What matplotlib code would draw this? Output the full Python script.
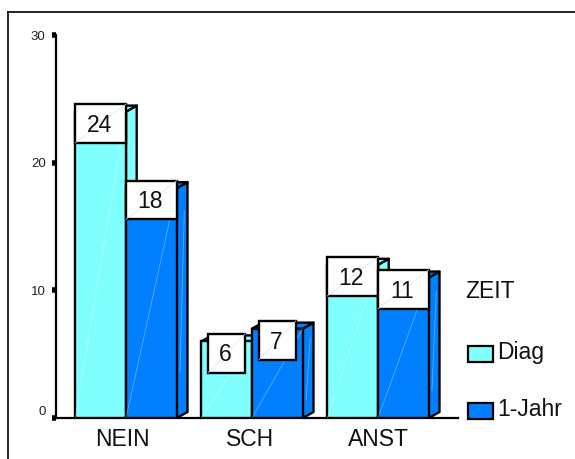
import matplotlib
matplotlib.use("Agg")
import matplotlib.pyplot as plt
from matplotlib.lines import Line2D
from matplotlib.patches import Polygon, Rectangle

plt.rcParams['font.family'] = ['Liberation Sans', 'DejaVu Sans']

# Data
categories = ["NEIN", "SCH", "ANST"]
series_names = ["Diag", "1-Jahr"]
diag = [24, 6, 12]
jahr = [18, 7, 11]
y_ticks = [0, 10, 20, 30]

colors = ["#80FFFF", "#0080FF"]
W, H = 575, 459

fig = plt.figure(figsize=(W / 100, H / 100), dpi=100)
# axes placed in pixels: y axis at x=56, baseline at y=418, 30 at y=35
ax = fig.add_axes([56 / W, (H - 418) / H, (458 - 56) / W, (418 - 35) / H])
ax.set_xlim((56 - 126) / 126, (458 - 126) / 126)
ax.set_ylim(0, 30)

bar_w = 0.403
dx = 0.085   # depth of the fake 3D, x units
dy = 0.47    # depth of the fake 3D, y units
lw = 1.7
streak = dict(color="white", lw=0.6, alpha=0.35)


def draw_bar(x0, v, color, z):
    x1 = x0 + bar_w
    ax.add_patch(Polygon([(x1, 0), (x1 + dx, dy), (x1 + dx, v + dy), (x1, v)],
                         fc=color, ec="black", lw=lw, zorder=z, joinstyle="round"))
    ax.add_patch(Polygon([(x0, v), (x0 + dx, v + dy), (x1 + dx, v + dy), (x1, v)],
                         fc=color, ec="black", lw=lw, zorder=z, joinstyle="round"))
    ax.add_patch(Rectangle((x0, 0), bar_w, v, fc=color, ec="black", lw=lw, zorder=z + 0.1))
    ax.plot([x0, x1], [0, v], zorder=z + 0.2, **streak)
    ax.plot([x1 + dx * 0.3, x1 + dx * 0.7], [0.2 * v, 0.9 * v], zorder=z + 0.2, **streak)


def draw_label(xc, v):
    # white value box that overlaps the bar top
    w = bar_w if v >= 10 else 0.293
    top = v + 0.6
    h = 3.05
    ax.add_patch(Rectangle((xc - w / 2, top - h), w, h, fc="white", ec="black", lw=lw, zorder=20))
    ax.plot([xc - w / 2, xc + w / 2], [top - h, top], color="#CFE6FF", lw=0.5, zorder=20.1)
    ax.text(xc - 0.012, top - h / 2 - 0.14, str(v), ha="center", va="center", fontsize=16.5,
            color="#111111", zorder=21)


for i in range(len(categories)):
    z = 3 + i * 3
    draw_bar(i - bar_w, diag[i], colors[0], z)
    draw_bar(i, jahr[i], colors[1], z + 1)
    draw_label(i - bar_w / 2, diag[i])
    draw_label(i + bar_w / 2, jahr[i])

# Axes
for side in ["top", "right"]:
    ax.spines[side].set_visible(False)
ax.spines["left"].set_linewidth(1.6)
ax.spines["bottom"].set_linewidth(1.6)
ax.patch.set_alpha(0)

ax.set_yticks(y_ticks)
ax.tick_params(axis="y", length=3, width=4, pad=4.5, labelsize=9.5, labelcolor="#222222")
ax.get_yticklabels()[0].set_va("bottom")
ax.set_xticks([-0.03, 1 - 0.016, 2], categories)
ax.tick_params(axis="x", length=0, pad=7, labelsize=16.5, labelcolor="#111111")

# Outer frame, only top and left are visible in the picture
fig.add_artist(Line2D([8 / W, 8 / W], [0, 1 - 12 / H], color="black", lw=1.2))
fig.add_artist(Line2D([8 / W, 1], [1 - 12 / H, 1 - 12 / H], color="black", lw=1.2))

# Legend, built by hand as in the original
fig.text(465 / W, 1 - 291.5 / H, "ZEIT", fontsize=16.5, va="center", color="#111111")
swatch_y = [346, 403]
for name, color, y in zip(series_names, colors, swatch_y):
    fig.add_artist(Rectangle((468 / W, 1 - (y + 16) / H), 25 / W, 16 / H, fc=color, ec="black",
                             lw=1.6, transform=fig.transFigure))
    fig.text(497 / W, 1 - (y + 6.5) / H, name, fontsize=16.5, va="center", color="#111111")

fig.savefig("out.png", dpi=100)
